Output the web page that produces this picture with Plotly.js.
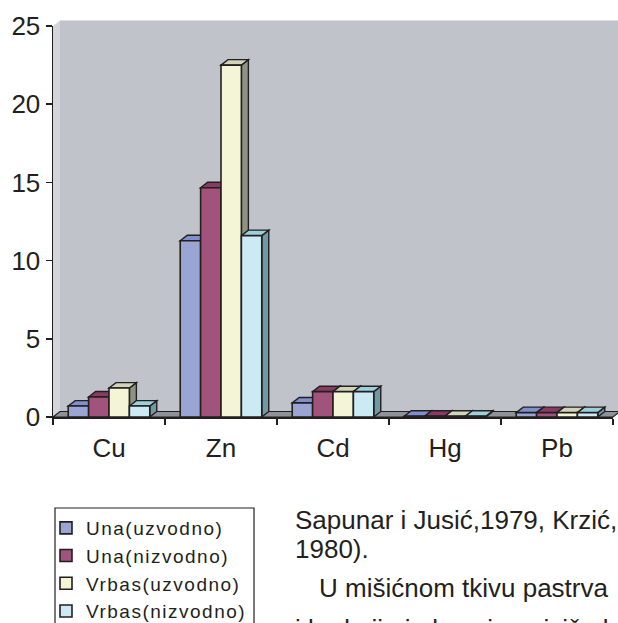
<!DOCTYPE html>
<html>
<head>
<meta charset="utf-8">
<script src="https://cdn.plot.ly/plotly-3.0.1.min.js"></script>
<style>
  html, body { margin: 0; padding: 0; background: #ffffff; }
  #chart { width: 618px; height: 623px; }
  .legendtext { letter-spacing: 1.5px; }
</style>
</head>
<body>
<div id="chart"></div>
<script>
// ---- data ----
const categories = ['Cu', 'Zn', 'Cd', 'Hg', 'Pb'];
const seriesNames = ['Una(uzvodno)', 'Una(nizvodno)', 'Vrbas(uzvodno)', 'Vrbas(nizvodno)'];
const unaUzvodno    = [0.70, 11.27, 0.90, 0.05, 0.28];
const unaNizvodno   = [1.28, 14.66, 1.62, 0.05, 0.28];
const vrbasUzvodno  = [1.85, 22.50, 1.62, 0.05, 0.28];
const vrbasNizvodno = [0.70, 11.60, 1.62, 0.05, 0.28];
const yTickValues = [0, 5, 10, 15, 20, 25];
const textLines = [
  'Sapunar i Jusić,1979, Krzić,',
  '1980).',
  'U mišićnom tkivu pastrva',
  'i kadmija i olova je najviša kod Una'
];

// ---- styles ----
const seriesValues = [unaUzvodno, unaNizvodno, vrbasUzvodno, vrbasNizvodno];
const frontColors = ['#9BA5D4', '#A1537B', '#F4F4D6', '#CBEAF4'];
const topColors   = ['#7F8FCF', '#883C64', '#D3D3B8', '#9CD0DC'];
const sideColors  = ['#6C79B2', '#7A3557', '#8E9484', '#6F9AA3'];
const ink = '#231F20';
const fam = 'Arial, "Liberation Sans", sans-serif';
const barWidth = 0.182;
const groupStart = -0.364;
const depthX = 0.0625;   // category units
const depthY = 0.35;     // value units
const plotW = 560, plotH = 391;
const depthXp = 7 / plotW, depthYp = 5.5 / plotH;

const xIdx = categories.map((c, i) => i);
const boundaries = categories.map((c, i) => i - 0.5).concat([categories.length - 0.5]);

const traces = seriesNames.map((name, s) => ({
  type: 'bar',
  name: name,
  x: xIdx,
  y: seriesValues[s],
  width: barWidth,
  offset: groupStart + s * barWidth,
  marker: { color: frontColors[s], line: { color: ink, width: 1.6 } },
  hoverinfo: 'skip'
}));

const shapes = [];
// back wall, side wall, floor (paper coordinates)
shapes.push({ type: 'rect', xref: 'paper', yref: 'paper', x0: depthXp, x1: 1 + depthXp + 0.02, y0: depthYp, y1: 1 + depthYp,
  fillcolor: '#C0C3CA', line: { width: 0 }, layer: 'below' });
shapes.push({ type: 'line', xref: 'paper', yref: 'paper', x0: depthXp, x1: 1 + depthXp + 0.02, y0: 1 + depthYp, y1: 1 + depthYp,
  line: { color: '#DDDEE2', width: 1.2 }, layer: 'below' });
shapes.push({ type: 'path', xref: 'paper', yref: 'paper', layer: 'below',
  path: `M 0,0 L ${depthXp},${depthYp} L ${depthXp},${1 + depthYp} L 0,1 Z`,
  fillcolor: '#D3D5DA', line: { width: 0 } });
shapes.push({ type: 'path', xref: 'paper', yref: 'paper', layer: 'below',
  path: `M 0,0 L 1,0 L ${1 + depthXp},${depthYp} L ${depthXp},${depthYp} Z`,
  fillcolor: '#8D9398', line: { color: ink, width: 1.2 } });

// 3D faces of bars (side and top) computed from the data
categories.forEach((c, j) => {
  seriesValues.forEach((vals, s) => {
    const v = vals[j];
    const L = j + groupStart + s * barWidth;
    const R = L + barWidth;
    shapes.push({ type: 'path', xref: 'x', yref: 'y', layer: 'below',
      path: `M ${R},0 L ${R},${v} L ${R + depthX},${v + depthY} L ${R + depthX},${depthY} Z`,
      fillcolor: sideColors[s], line: { color: ink, width: 1.4 } });
    shapes.push({ type: 'path', xref: 'x', yref: 'y', layer: 'below',
      path: `M ${L},${v} L ${R},${v} L ${R + depthX},${v + depthY} L ${L + depthX},${v + depthY} Z`,
      fillcolor: topColors[s], line: { color: ink, width: 1.4 } });
  });
});

// legend frame
const px = x => (x - 53) / plotW;
const py = y => (417 - y) / plotH;
shapes.push({ type: 'rect', xref: 'paper', yref: 'paper', x0: px(55), x1: px(254), y0: py(640), y1: py(508),
  line: { color: ink, width: 1.2 }, fillcolor: 'rgba(0,0,0,0)' });

const textPos = [[293, 520], [293, 549], [317, 588], [293, 629]];
const annotations = textLines.map((t, i) => ({
  xref: 'paper', yref: 'paper', x: px(textPos[i][0]), y: py(textPos[i][1]),
  xanchor: 'left', yanchor: 'middle', showarrow: false, text: t,
  font: { family: fam, size: 26, color: ink }
}));

const layout = {
  width: 618, height: 623,
  margin: { l: 53, r: 5, t: 26, b: 206, autoexpand: false },
  paper_bgcolor: '#ffffff',
  plot_bgcolor: 'rgba(0,0,0,0)',
  barmode: 'overlay',
  font: { family: fam, color: ink },
  showlegend: true,
  legend: {
    x: px(46), y: py(509), xanchor: 'left', yanchor: 'top',
    bgcolor: 'rgba(0,0,0,0)', borderwidth: 0, traceorder: 'normal',
    font: { family: fam, size: 19, color: ink }
  },
  xaxis: {
    range: [-0.5, 4.5], fixedrange: true,
    tickmode: 'array', tickvals: xIdx, ticktext: categories,
    ticks: '', showgrid: false, zeroline: false,
    showline: true, linecolor: ink, linewidth: 1.5,
    tickfont: { family: fam, size: 26, color: ink },
    ticklabelstandoff: 7,
    minor: { tickmode: 'array', tickvals: boundaries, ticks: 'outside', ticklen: 6, tickwidth: 1.5, tickcolor: ink, showgrid: false }
  },
  yaxis: {
    range: [0, 25], fixedrange: true,
    tickmode: 'array', tickvals: yTickValues,
    ticks: 'outside', ticklen: 6, tickwidth: 1.5, tickcolor: ink,
    showgrid: false, zeroline: false,
    showline: true, linecolor: ink, linewidth: 1.5,
    tickfont: { family: fam, size: 26, color: ink }
  },
  shapes: shapes,
  annotations: annotations
};

Plotly.newPlot('chart', traces, layout, { staticPlot: true, displayModeBar: false });
</script>
</body>
</html>
